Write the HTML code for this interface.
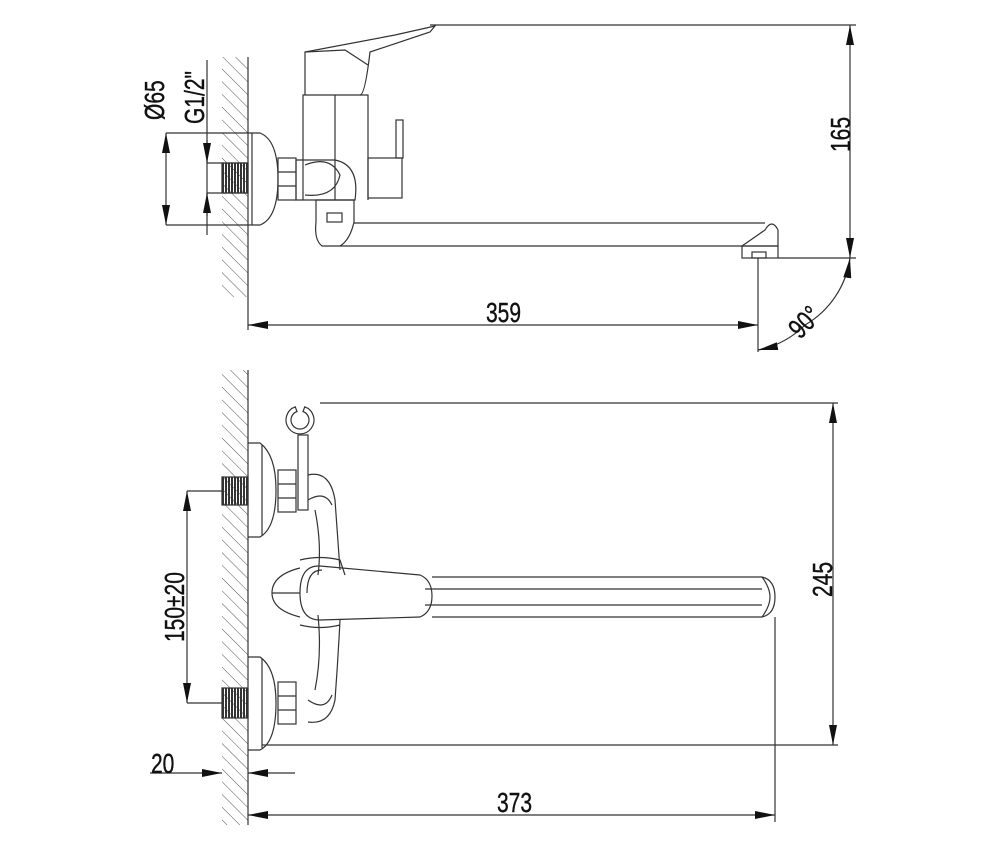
<!DOCTYPE html>
<html><head><meta charset="utf-8"><style>
html,body{margin:0;padding:0;background:#fff;}
svg{display:block;}
text{font-family:"Liberation Sans",sans-serif;font-size:28px;fill:#111;stroke:#111;stroke-width:0.4;}
</style></head><body>
<svg width="1000" height="850" viewBox="0 0 1000 850" xmlns="http://www.w3.org/2000/svg">
<defs>
<pattern id="h" width="9" height="9" patternUnits="userSpaceOnUse" patternTransform="rotate(-45)">
<line x1="0" y1="0" x2="0" y2="9" stroke="#555" stroke-width="1"/>
</pattern>
<pattern id="th" width="3" height="10" patternUnits="userSpaceOnUse">
<rect x="0" y="0" width="2" height="10" fill="#333"/>
</pattern>
<marker id="a" viewBox="0 0 20 8" refX="20" refY="4" markerWidth="20" markerHeight="8" orient="auto" markerUnits="userSpaceOnUse">
<path d="M0,0 L20,4 L0,8 Z" fill="#111"/>
</marker>
</defs>
<g fill="none" stroke="#333" stroke-width="1.2">
<!-- TOP VIEW -->
<rect x="222" y="57" width="26" height="240" fill="url(#h)" stroke="none"/>
<line x1="248" y1="57" x2="248" y2="330"/>
<rect x="222" y="163" width="26" height="30" fill="url(#th)"/>
<path d="M248,133 L260,133 Q278,140 278,179 Q278,218 260,225 L248,225"/>
<line x1="252" y1="133" x2="252" y2="225"/>
<rect x="278" y="158" width="18" height="42"/>
<line x1="278" y1="172" x2="296" y2="172"/><line x1="278" y1="186" x2="296" y2="186"/>
<path d="M296,160 L335,160 Q360,165 355,200 L296,200 Z"/>
<path d="M305,165 Q330,155 340,175 Q335,198 305,195"/>
<path d="M303,200 L303,95 L368,95 L368,200"/>
<line x1="335" y1="95" x2="335" y2="200"/>
<path d="M305,95 L305,52 L395,35 L435,26 L430,32 L370,52 Q365,95 360,95"/>
<path d="M305,52 L345,50 L368,65"/>
<rect x="368" y="158" width="34" height="40"/>
<rect x="396" y="120" width="7" height="38"/>
<path d="M316,200 L354,200 L354,222 Q350,240 340,246 L322,246 Q314,240 316,222 Z"/>
<rect x="327" y="213" width="15" height="9"/>
<line x1="354" y1="223" x2="765" y2="223"/>
<line x1="340" y1="246" x2="742" y2="246"/>
<path d="M742,246 L765,230 Q772,218 778,230 L778,246 Z"/>
<rect x="742" y="246" width="36" height="12"/>
<rect x="752" y="252" width="14" height="6"/>
<!-- dims top -->
<line x1="166" y1="133" x2="248" y2="133"/>
<line x1="166" y1="225" x2="248" y2="225"/>
<line x1="166" y1="180" x2="166" y2="133" marker-end="url(#a)"/>
<line x1="166" y1="180" x2="166" y2="225" marker-end="url(#a)"/>
<line x1="207" y1="60" x2="207" y2="235"/>
<line x1="207" y1="163" x2="248" y2="163"/>
<line x1="207" y1="193" x2="248" y2="193"/>
<line x1="207" y1="140" x2="207" y2="163" marker-end="url(#a)"/>
<line x1="207" y1="216" x2="207" y2="193" marker-end="url(#a)"/>
<line x1="430" y1="25" x2="856" y2="25"/>
<line x1="778" y1="258" x2="856" y2="258"/>
<line x1="850" y1="140" x2="850" y2="25" marker-end="url(#a)"/>
<line x1="850" y1="140" x2="850" y2="258" marker-end="url(#a)"/>
<line x1="758" y1="258" x2="758" y2="352"/>
<line x1="500" y1="325" x2="248" y2="325" marker-end="url(#a)"/>
<line x1="500" y1="325" x2="758" y2="325" marker-end="url(#a)"/>
<path d="M805,325 A92,92 0 0 0 850,258" marker-end="url(#a)"/>
<path d="M805,325 A92,92 0 0 1 758,350" marker-end="url(#a)"/>
<!-- BOTTOM VIEW -->
<rect x="222" y="370" width="26" height="455" fill="url(#h)" stroke="none"/>
<line x1="248" y1="370" x2="248" y2="825"/>
<rect x="222" y="477" width="26" height="28" fill="url(#th)"/>
<rect x="222" y="688" width="26" height="30" fill="url(#th)"/>
<path d="M248,443 L260,443 Q276,455 276,490 Q276,528 260,537 L248,537"/>
<line x1="262" y1="445" x2="262" y2="535"/>
<path d="M248,657 L260,657 Q276,668 276,703 Q276,742 260,750 L248,750"/>
<line x1="262" y1="659" x2="262" y2="748"/>
<rect x="278" y="470" width="18" height="42"/><line x1="278" y1="484" x2="296" y2="484"/><line x1="278" y1="498" x2="296" y2="498"/>
<rect x="278" y="682" width="18" height="42"/><line x1="278" y1="696" x2="296" y2="696"/><line x1="278" y1="710" x2="296" y2="710"/>
<path d="M295.2,406.8 A14,14 0 1 0 304.8,406.8 L303,411.5 A9,9 0 1 1 297,411.5 Z"/>
<rect x="298" y="435" width="10" height="75"/>
<path d="M308,475 Q330,470 335,500 Q338,540 340,570"/>
<path d="M308,500 Q325,490 332,505"/>
<path d="M315,510 Q322,545 318,575"/>
<path d="M308,722 Q330,725 335,700 Q338,660 340,620"/>
<path d="M308,700 Q325,712 332,695"/>
<path d="M315,690 Q322,655 318,615"/>
<path d="M300,560 Q320,555 340,560 L345,575 M300,625 Q320,630 340,625"/>
<path d="M300,568 Q272,575 272,593 Q272,610 300,617"/>
<line x1="272" y1="593" x2="300" y2="593"/>
<path d="M300,593 Q300,565 320,566 L420,575 Q432,580 432,596 Q432,612 420,617 L320,620 Q300,620 300,593 Z"/>
<path d="M307,593 Q307,570 322,570"/>
<line x1="432" y1="577" x2="762" y2="577"/>
<line x1="432" y1="617" x2="762" y2="617"/>
<line x1="425" y1="589" x2="762" y2="589"/>
<line x1="425" y1="605" x2="762" y2="605"/>
<path d="M762,577 Q775,580 775,597 Q775,614 762,617"/>
<path d="M762,577 Q770,588 770,597 Q770,606 762,617"/>
<!-- dims bottom -->
<line x1="320" y1="403" x2="838" y2="403"/>
<line x1="262" y1="745" x2="838" y2="745"/>
<line x1="833" y1="575" x2="833" y2="403" marker-end="url(#a)"/>
<line x1="833" y1="575" x2="833" y2="745" marker-end="url(#a)"/>
<line x1="187" y1="491" x2="222" y2="491"/>
<line x1="187" y1="703" x2="222" y2="703"/>
<line x1="187" y1="597" x2="187" y2="491" marker-end="url(#a)"/>
<line x1="187" y1="597" x2="187" y2="703" marker-end="url(#a)"/>
<line x1="150" y1="773" x2="222" y2="773" marker-end="url(#a)"/>
<line x1="295" y1="773" x2="248" y2="773" marker-end="url(#a)"/>
<line x1="775" y1="617" x2="775" y2="822"/>
<line x1="510" y1="815" x2="248" y2="815" marker-end="url(#a)"/>
<line x1="510" y1="815" x2="775" y2="815" marker-end="url(#a)"/>
</g>
<g>
<text transform="translate(164,120) rotate(-90) scale(0.75,1)">Ø65</text>
<text transform="translate(204,124) rotate(-90) scale(0.75,1)">G1/2"</text>
<text transform="translate(850,152) rotate(-90) scale(0.75,1)">165</text>
<text transform="translate(486,322) scale(0.75,1)">359</text>
<text transform="translate(800,340) rotate(-45) scale(0.75,1)">90°</text>
<text transform="translate(832,597) rotate(-90) scale(0.75,1)">245</text>
<text transform="translate(184,642) rotate(-90) scale(0.75,1)">150±20</text>
<text transform="translate(151,773) scale(0.75,1)">20</text>
<text transform="translate(497,812) scale(0.75,1)">373</text>
</g>
</svg>
</body></html>
